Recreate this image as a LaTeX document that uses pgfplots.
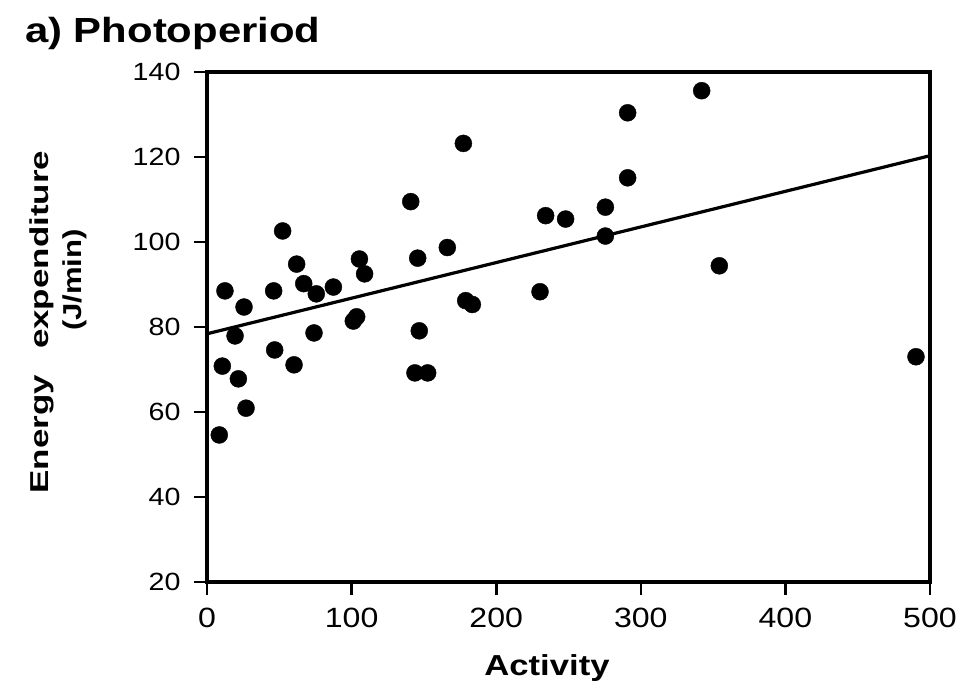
\documentclass[border=0pt]{standalone}
\usepackage{fontspec}
\setmainfont{Liberation Sans}[FakeStretch=1.15]
\newfontfamily\labfont{Liberation Sans}[FakeStretch=1.2]
\newfontfamily\ylabfont{Liberation Sans}[FakeStretch=1.35]
\usepackage{pgfplots}
\pgfplotsset{compat=1.18}
\begin{document}
\begin{tikzpicture}
\begin{axis}[
  at={(0,0)}, anchor=south west,
  scale only axis,
  width=723bp, height=510bp,
  xmin=0, xmax=500, ymin=20, ymax=140,
  xtick={0,100,...,500}, ytick={20,40,...,140},
  tick align=outside,
  major tick length=13bp,
  xtick pos=bottom, ytick pos=left,
  axis line style={line width=3.4bp},
  every tick/.style={line width=2.6bp, black},
  /pgf/number format/assume math mode=true,
  xticklabel style={font=\fontsize{28}{28}\selectfont, yshift=-9bp},
  yticklabel style={font=\fontsize{25}{25}\selectfont, xshift=-10bp},
  clip=false,
]
\addplot[only marks, mark=*, mark size=8.5bp, black] coordinates {
(8.5,54.6) (10.6,70.8) (12.4,88.5) (19.4,77.9) (21.7,67.8) (25.6,84.7)
(27,60.9) (46.1,88.5) (46.8,74.6) (52.3,102.6) (60.2,71.1) (62,94.8)
(66.9,90.2) (74,78.6) (75.6,87.8) (87.4,89.4) (101.2,81.4) (103.5,82.4)
(105.4,96) (109,92.5) (140.9,109.5) (145.7,96.2) (146.8,79.1) (143.8,69.2)
(152.6,69.2) (166.2,98.7) (177.3,123.2) (178.9,86.2) (183.5,85.3)
(230.3,88.3) (234.2,106.2) (248,105.4) (275.5,108.2) (275.5,101.4)
(290.9,115.1) (290.9,130.4) (342.1,135.6) (354.3,94.4) (490.3,73)
};
\addplot[black, line width=3.2bp] coordinates {(0,78.4) (500,120.3)};
\end{axis}
\node[anchor=base west, font=\labfont\bfseries\fontsize{35}{35}\selectfont, inner sep=0pt] at (-182bp,539bp) {a) Photoperiod};
\node[font=\labfont\bfseries\fontsize{29}{29}\selectfont, inner sep=0pt] at (340bp,-86bp) {Activity};
\node[rotate=90, font=\ylabfont\bfseries\fontsize{26}{26}\selectfont, inner sep=0pt] at (-165bp,260bp) {Energy\quad expenditure};
\node[rotate=90, font=\labfont\bfseries\fontsize{26}{26}\selectfont, inner sep=0pt] at (-132bp,302bp) {(J/min)};
\path (-207bp,-110bp) rectangle (757bp,582bp);
\end{tikzpicture}
\end{document}
